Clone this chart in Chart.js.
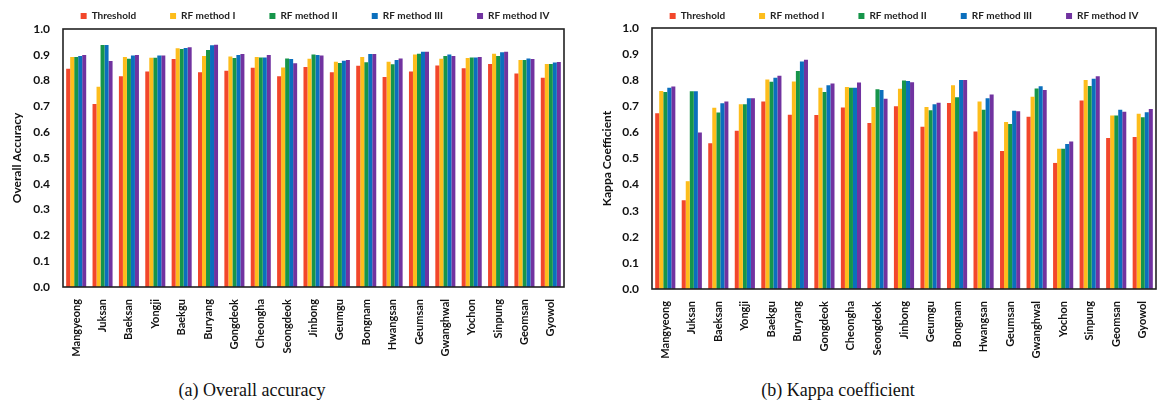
<!DOCTYPE html>
<html><head><meta charset="utf-8">
<script src="https://cdn.jsdelivr.net/npm/chart.js@4/dist/chart.umd.min.js"></script>
<style>
html,body{margin:0;padding:0;background:#fff;}
body{width:1174px;height:407px;position:relative;overflow:hidden;}
#c1{position:absolute;left:0;top:-23px;}
#c2{position:absolute;left:590px;top:-23px;}
.cap{position:absolute;top:380px;font-family:"Liberation Serif","Times New Roman",serif;font-size:18px;color:#111;text-align:center;line-height:21px;}
</style></head><body>
<canvas id="c1" width="585" height="393"></canvas>
<canvas id="c2" width="584" height="393"></canvas>
<div class="cap" style="left:0;width:504px">(a) Overall accuracy</div>
<div class="cap" style="left:590px;width:496px">(b) Kappa coefficient</div>
<script>
const categories = ["Mangyeong","Juksan","Baeksan","Yongji","Baekgu","Buryang","Gongdeok","Cheongha","Seongdeok","Jinbong","Geumgu","Bongnam","Hwangsan","Geumsan","Gwanghwal","Yochon","Sinpung","Geomsan","Gyowol"];
const seriesNames = ["Threshold","RF method I","RF method II","RF method III","RF method IV"];
const yTicks = [0.0,0.1,0.2,0.3,0.4,0.5,0.6,0.7,0.8,0.9,1.0];

const oaThreshold = [0.846,0.709,0.817,0.835,0.884,0.832,0.838,0.850,0.817,0.853,0.832,0.858,0.814,0.835,0.859,0.848,0.864,0.828,0.811];
const oaRF1       = [0.891,0.776,0.891,0.889,0.925,0.895,0.893,0.891,0.851,0.885,0.873,0.891,0.873,0.901,0.885,0.888,0.904,0.880,0.864];
const oaRF2       = [0.891,0.938,0.885,0.889,0.922,0.919,0.888,0.890,0.886,0.901,0.868,0.871,0.863,0.904,0.895,0.890,0.895,0.880,0.864];
const oaRF3       = [0.895,0.938,0.897,0.897,0.926,0.937,0.899,0.890,0.884,0.899,0.877,0.903,0.880,0.912,0.901,0.890,0.910,0.886,0.870];
const oaRF4       = [0.899,0.876,0.899,0.897,0.929,0.939,0.903,0.899,0.867,0.897,0.880,0.903,0.886,0.912,0.895,0.891,0.912,0.884,0.872];

const kThreshold = [0.673,0.340,0.558,0.606,0.718,0.668,0.667,0.695,0.636,0.700,0.622,0.713,0.603,0.529,0.660,0.483,0.722,0.579,0.582];
const kRF1       = [0.759,0.413,0.694,0.708,0.803,0.795,0.771,0.774,0.697,0.767,0.697,0.781,0.718,0.640,0.737,0.537,0.801,0.665,0.671];
const kRF2       = [0.755,0.758,0.676,0.708,0.794,0.835,0.755,0.771,0.765,0.799,0.685,0.735,0.687,0.632,0.768,0.537,0.778,0.665,0.658];
const kRF3       = [0.771,0.758,0.712,0.731,0.809,0.872,0.781,0.771,0.762,0.797,0.708,0.801,0.731,0.683,0.777,0.556,0.806,0.687,0.677];
const kRF4       = [0.776,0.600,0.718,0.731,0.817,0.878,0.787,0.791,0.729,0.792,0.714,0.801,0.745,0.681,0.762,0.565,0.815,0.679,0.690];

const colors = ["#F2472B","#FDBD1C","#16954A","#0B6FBD","#7133A0"];
const FONT = "Lato, 'Open Sans', sans-serif";

const frame = {id:'frame', afterDatasetsDraw(chart){
  const {ctx, chartArea:a} = chart;
  ctx.save(); ctx.strokeStyle='#222'; ctx.lineWidth=1.6;
  ctx.strokeRect(a.left, a.top, a.right-a.left, a.bottom-a.top);
  ctx.restore();
}};
const legendShift = {id:'legendShift', afterLayout(chart, args, opts){
  const dx = opts.dx || 0;
  if (chart.legend){ chart.legend.left += dx; chart.legend.right += dx; }
}};

function makeChart(id, series, yTitle, yWidth, xHeight, padRight, legendH, dx){
  return new Chart(document.getElementById(id), {
    type:'bar',
    data:{labels:categories, datasets: series.map((d,i)=>({label:seriesNames[i], data:d, backgroundColor:colors[i], borderWidth:0, barPercentage:1.0, categoryPercentage:0.76}))},
    options:{
      responsive:false, animation:false,
      layout:{padding:{left:10,right:padRight,top:0,bottom:0}},
      plugins:{
        legend:{position:'top', maxHeight:legendH, labels:{font:{family:FONT,size:10,weight:'bold'}, color:'#222', boxWidth:6, boxHeight:6, padding:34}},
        legendShift:{dx:dx},
        tooltip:{enabled:false}
      },
      scales:{
        x:{grid:{display:false}, border:{display:false},
           ticks:{font:{family:FONT,size:11,weight:'bold'}, color:'#111', maxRotation:90, minRotation:90, autoSkip:false, padding:4},
           afterFit(s){ s.height = xHeight; }},
        y:{min:0, max:1, grid:{display:false}, border:{display:false},
           afterBuildTicks(s){ s.ticks = yTicks.map(v=>({value:v})); },
           ticks:{font:{family:FONT,size:12,weight:'bold'}, color:'#111', padding:5, callback:v=>Number(v).toFixed(1)},
           title:{display:true, text:yTitle, font:{family:FONT,size:12,weight:'bold'}, color:'#111', padding:{top:0,bottom:4}},
           afterFit(s){ s.width = yWidth; }}
      }
    },
    plugins:[frame, legendShift]
  });
}
makeChart('c1', [oaThreshold,oaRF1,oaRF2,oaRF3,oaRF4], 'Overall Accuracy', 53, 83, 21, 52, 28);
makeChart('c2', [kThreshold,kRF1,kRF2,kRF3,kRF4], 'Kappa Coefficient', 52, 81, 18, 51, 26);
</script>
</body></html>
